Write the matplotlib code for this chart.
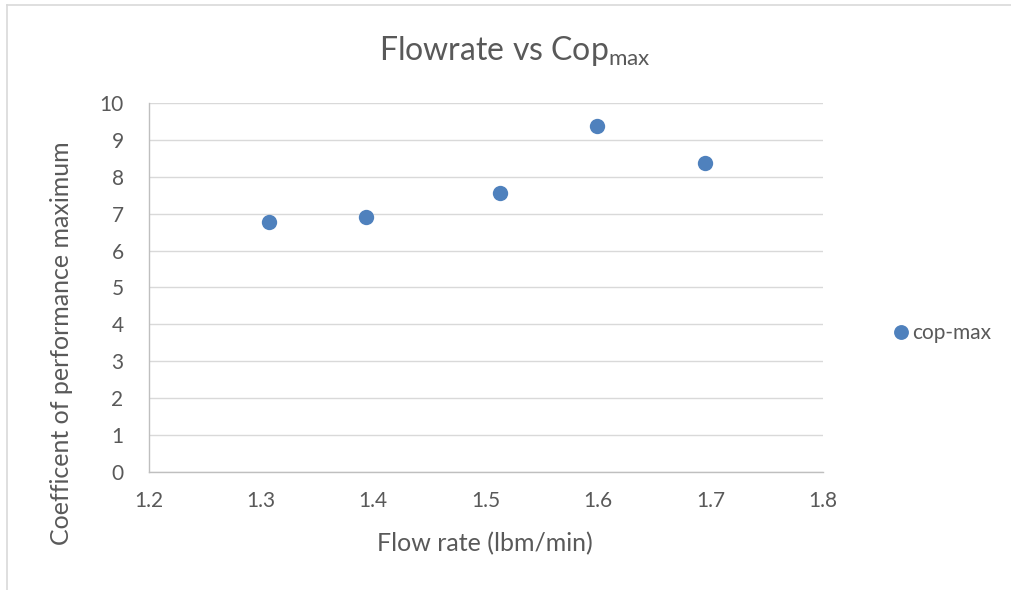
import matplotlib
matplotlib.use("Agg")
import matplotlib.pyplot as plt
from matplotlib.lines import Line2D

plt.rcParams["font.family"] = ["Lato", "DejaVu Sans"]
plt.rcParams["mathtext.fontset"] = "custom"
plt.rcParams["mathtext.rm"] = "Lato"

# Data
flow_rate = [1.3075, 1.3936, 1.5125, 1.5989, 1.6952]
cop_max = [6.77, 6.92, 7.56, 9.38, 8.39]
series_name = "cop-max"
x_ticks = [1.2, 1.3, 1.4, 1.5, 1.6, 1.7, 1.8]
y_ticks = [0, 1, 2, 3, 4, 5, 6, 7, 8, 9, 10]

TEXT = "#595959"
GRID = "#d9d9d9"
AXIS = "#bfbfbf"
BLUE = "#4f81bd"

fig = plt.figure(figsize=(10.11, 5.90), dpi=100)
ax = fig.add_axes([0.1469, 0.2008, 0.6669, 0.6241])

ax.scatter(flow_rate, cop_max, s=122, color=BLUE, zorder=3, linewidths=0)

ax.set_xlim(1.2, 1.8)
ax.set_ylim(0, 10)
ax.set_xticks(x_ticks)
ax.set_xticklabels([f"{t:.1f}" for t in x_ticks])
ax.set_yticks(y_ticks)
ax.set_yticklabels([str(t) for t in y_ticks])

ax.grid(axis="y", color=GRID, linewidth=1.0, zorder=0)
ax.set_axisbelow(True)
for side in ("top", "right"):
    ax.spines[side].set_visible(False)
for side in ("left", "bottom"):
    ax.spines[side].set_color(AXIS)
    ax.spines[side].set_linewidth(1.0)

ax.tick_params(axis="both", length=0, colors=TEXT, labelsize=15)
ax.tick_params(axis="y", pad=18)
ax.tick_params(axis="x", pad=14)

# Titles and axis labels
fig.text(0.509, 0.913, r"Flowrate vs Cop$_{\mathregular{max}}$",
         ha="center", va="center", fontsize=23, color=TEXT)
fig.text(0.48, 1 - 544 / 590, "Flow rate (lbm/min)",
         ha="center", va="center", fontsize=18, color=TEXT)
fig.text(62 / 1011, 1 - 343 / 590, "Coefficent of performance maximum",
         ha="center", va="center", rotation=90, fontsize=18, color=TEXT)

# Legend
handle = Line2D([], [], linestyle="none", marker="o", markersize=10.7,
                markerfacecolor=BLUE, markeredgewidth=0)
fig.legend([handle], [series_name], loc="center left",
           bbox_to_anchor=(0.861, 1 - 333 / 590), frameon=False,
           handletextpad=0.0, handlelength=1.1, fontsize=15,
           labelcolor=TEXT)

# Chart frame (top and left edges)
fig.add_artist(Line2D([7 / 1011, 7 / 1011], [0, 1 - 5 / 590],
                      color=GRID, linewidth=1.2, transform=fig.transFigure))
fig.add_artist(Line2D([7 / 1011, 1], [1 - 5 / 590, 1 - 5 / 590],
                      color=GRID, linewidth=1.2, transform=fig.transFigure))

fig.savefig("out.png", dpi=100)
